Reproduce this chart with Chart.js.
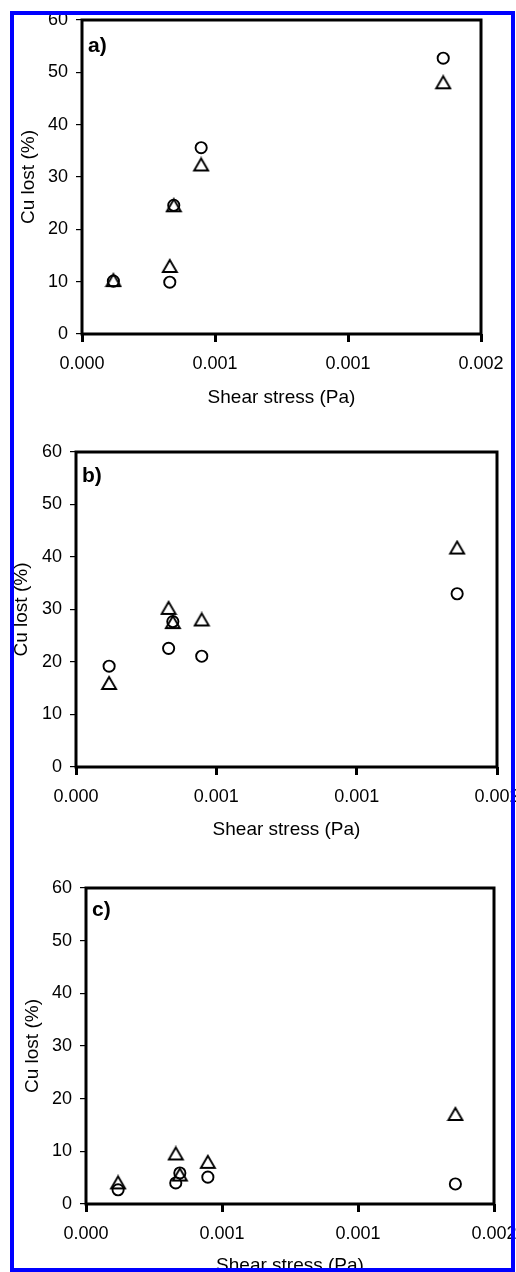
<!DOCTYPE html>
<html>
<head>
<meta charset="utf-8">
<script src="https://cdn.jsdelivr.net/npm/chart.js@4.4.1/dist/chart.umd.min.js"></script>
<style>
  html, body { margin: 0; padding: 0; background: #fff; overflow: hidden; }
  body { width: 516px; height: 1272px; position: relative; }
  canvas { position: absolute; left: 0; }
  #frame { position: absolute; left: 10px; top: 11px; width: 505px; height: 1261px;
           box-sizing: border-box; border: 4px solid #0000ff; pointer-events: none; z-index: 5; }
</style>
</head>
<body>
<canvas id="panelA"></canvas>
<canvas id="panelB"></canvas>
<canvas id="panelC"></canvas>
<div id="frame"></div>
<script>
// shear stress (Pa) of the five runs, shared by the three panels
const shearStress = [0.000118, 0.00033, 0.000345, 0.000448, 0.001358];

// Cu lost (%) - circles / triangles
const cuLostA_circle   = [10.1, 9.9, 24.6, 35.6, 52.7];
const cuLostA_triangle = [10.3, 13.0, 24.6, 32.4, 48.1];
const cuLostB_circle   = [19.2, 22.6, 27.7, 21.1, 33.0];
const cuLostB_triangle = [16.0, 30.3, 27.6, 28.1, 41.8];
const cuLostC_circle   = [2.7, 4.0, 5.9, 5.1, 3.8];
const cuLostC_triangle = [4.1, 9.6, 5.6, 8.0, 17.1];

// axis ticks (Excel shows 0.0005 steps rounded to 3 decimals)
const xTickValues = [0, 0.0005, 0.001, 0.0015];
const xTickLabels = ['0.000', '0.001', '0.001', '0.002'];
const yMin = 0, yMax = 60, yStep = 10;

const panelNames = ['a)', 'b)', 'c)'];

Chart.defaults.font.family = '"Liberation Sans", Arial, sans-serif';
Chart.defaults.color = '#000';

// triangle marker drawn centred on its box, like the Excel one
function makeTriangle() {
    const c = document.createElement('canvas');
    c.width = 18; c.height = 16;
    const g = c.getContext('2d');
    g.lineWidth = 1.9;
    g.strokeStyle = '#000';
    g.beginPath();
    g.moveTo(9, 2); g.lineTo(16, 14); g.lineTo(2, 14); g.closePath();
    g.stroke();
    return c;
}
const triangleImg = makeTriangle();

// frame round the plot area + the a)/b)/c) tag
const panelDecor = {
    id: 'panelDecor',
    afterDraw(chart, args, opts) {
        const { ctx, chartArea } = chart;
        ctx.save();
        ctx.strokeStyle = '#000';
        ctx.lineWidth = 3;
        ctx.strokeRect(chartArea.left, chartArea.top,
            chartArea.right - chartArea.left, chartArea.bottom - chartArea.top);
        ctx.font = 'bold 21px "Liberation Sans", Arial, sans-serif';
        ctx.fillStyle = '#000';
        ctx.fillText(opts.text, chartArea.left + 6, chartArea.top + opts.dy);
        ctx.restore();
    }
};

// where each panel sits on the page
const layouts = [
    { top: 0,   height: 413, left: 82, right: 481, plotTop: 20,  plotBottom: 334,  titleLeft: 13, dy: 32 },
    { top: 420, height: 425, left: 76, right: 497, plotTop: 452, plotBottom: 767,  titleLeft: 6,  dy: 30 },
    { top: 850, height: 431, left: 86, right: 494, plotTop: 888, plotBottom: 1204, titleLeft: 17, dy: 28 },
];
const CANVAS_W = 560;

function drawPanel(id, circles, triangles, name, lay) {
    const canvas = document.getElementById(id);
    canvas.width = CANVAS_W;
    canvas.height = lay.height;
    canvas.style.top = lay.top + 'px';

    const toPoints = (vals) => vals.map((v, i) => ({ x: shearStress[i], y: v }));

    new Chart(canvas, {
        type: 'scatter',
        data: {
            datasets: [
                {
                    label: 'circles',
                    data: toPoints(circles),
                    pointStyle: 'circle',
                    pointRadius: 5.6,
                    borderColor: '#000',
                    borderWidth: 1.9,
                    backgroundColor: 'rgba(0,0,0,0)',
                },
                {
                    label: 'triangles',
                    data: toPoints(triangles),
                    pointStyle: triangleImg,
                    pointRadius: 7,
                },
            ],
        },
        options: {
            responsive: false,
            animation: false,
            events: [],
            layout: {
                padding: {
                    left: lay.titleLeft,
                    right: CANVAS_W - lay.right,
                    top: lay.plotTop - lay.top,
                    bottom: 0,
                },
            },
            plugins: {
                legend: { display: false },
                tooltip: { enabled: false },
                panelDecor: { text: name, dy: lay.dy },
            },
            scales: {
                x: {
                    type: 'linear',
                    min: xTickValues[0],
                    max: xTickValues[xTickValues.length - 1],
                    afterBuildTicks: (s) => { s.ticks = xTickValues.map((v) => ({ value: v })); },
                    afterFit: (s) => { s.height = lay.top + lay.height - lay.plotBottom; },
                    border: { display: false },
                    grid: { drawOnChartArea: false, drawTicks: true, tickLength: 8, lineWidth: 3, color: '#000' },
                    ticks: {
                        font: { size: 18 },
                        padding: 11,
                        maxRotation: 0,
                        callback: (v, i) => xTickLabels[i],
                    },
                    title: { display: true, text: 'Shear stress (Pa)', font: { size: 19 }, padding: { top: 4, bottom: 4 } },
                },
                y: {
                    min: yMin,
                    max: yMax,
                    afterFit: (s) => { s.width = lay.left - lay.titleLeft; },
                    border: { display: false },
                    grid: { drawOnChartArea: false, drawTicks: true, tickLength: 6, lineWidth: 1.2, color: '#000' },
                    ticks: { stepSize: yStep, font: { size: 18 }, padding: 8 },
                    title: { display: true, text: 'Cu lost (%)', font: { size: 19 }, padding: { top: 4, bottom: 4 } },
                },
            },
        },
        plugins: [panelDecor],
    });
}

drawPanel('panelA', cuLostA_circle, cuLostA_triangle, panelNames[0], layouts[0]);
drawPanel('panelB', cuLostB_circle, cuLostB_triangle, panelNames[1], layouts[1]);
drawPanel('panelC', cuLostC_circle, cuLostC_triangle, panelNames[2], layouts[2]);
</script>
</body>
</html>
